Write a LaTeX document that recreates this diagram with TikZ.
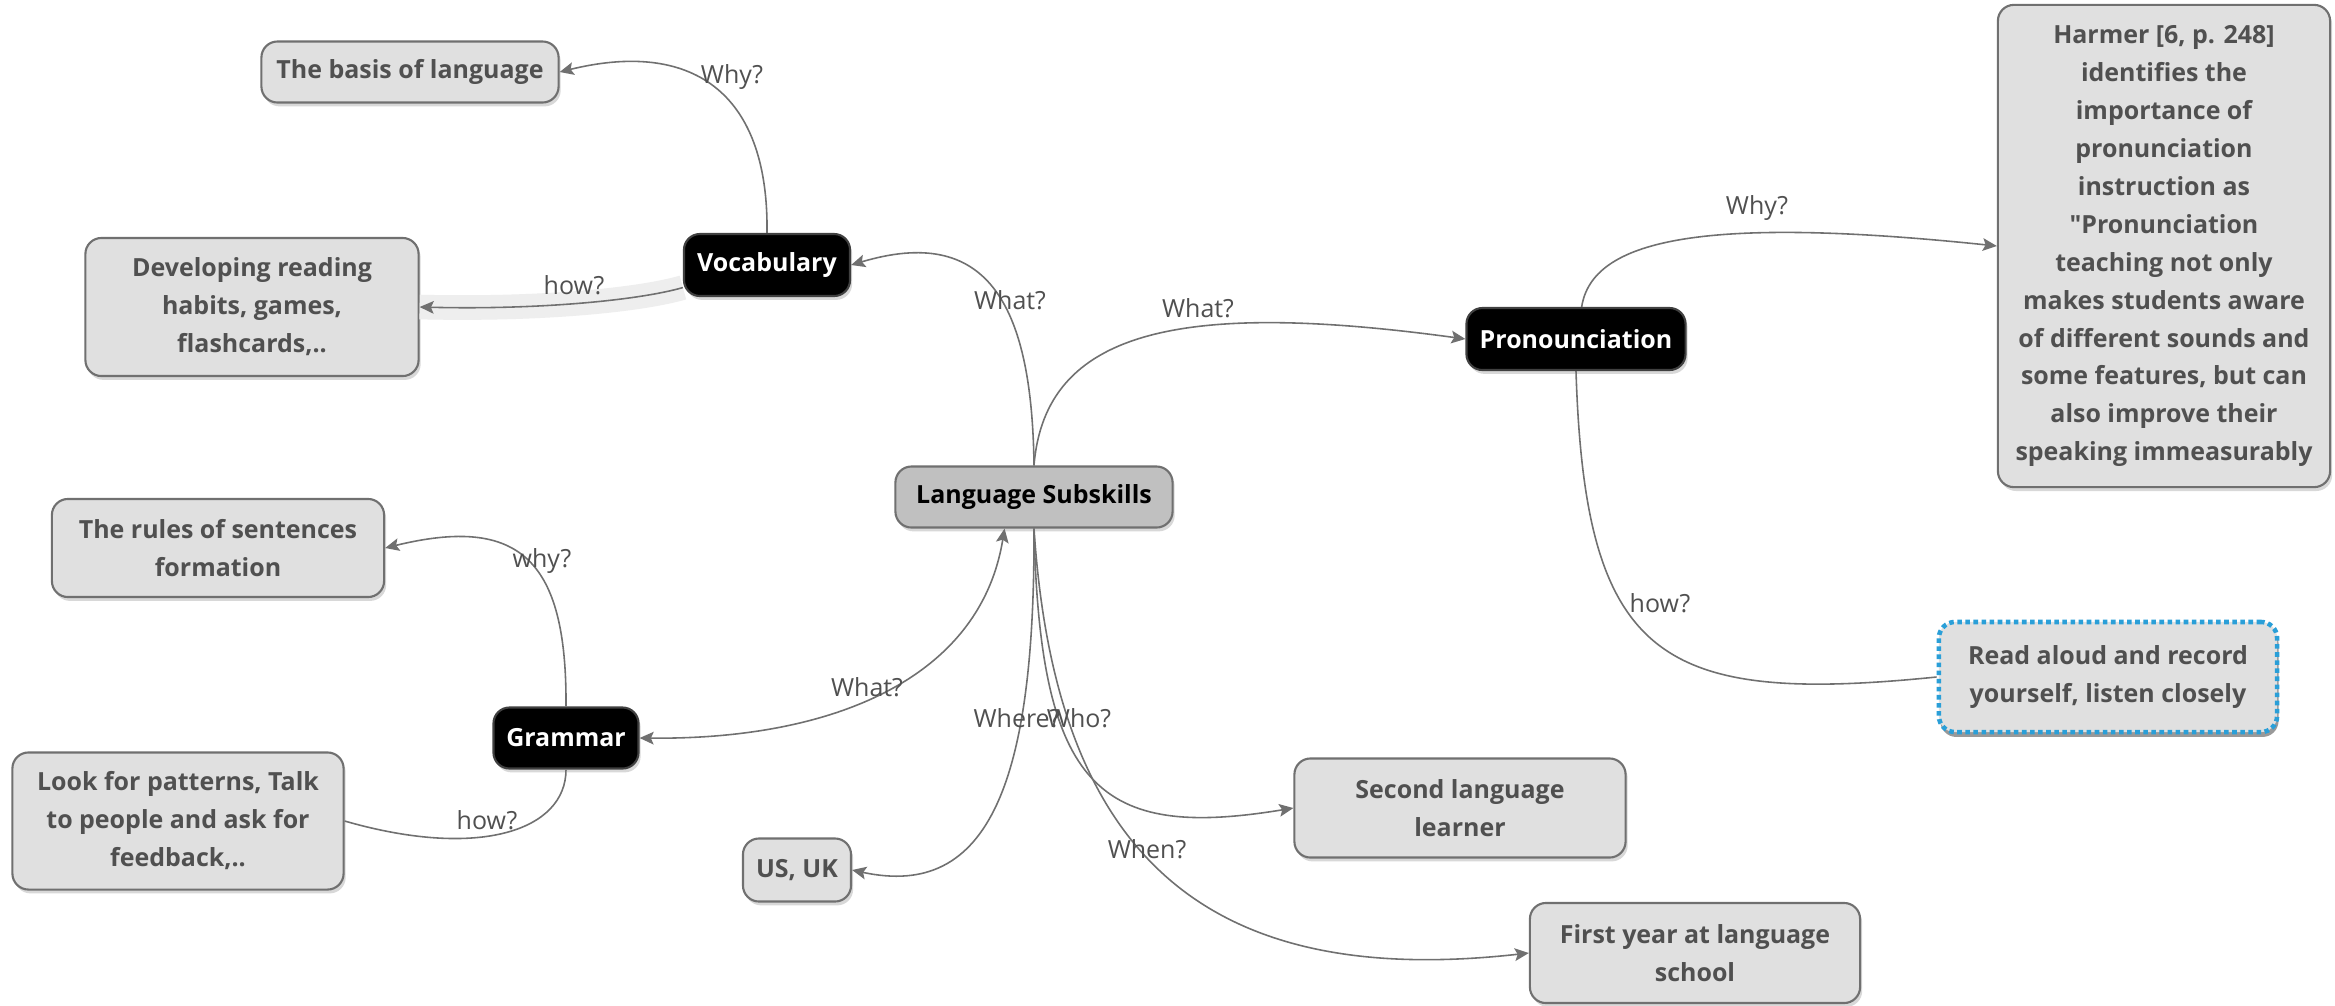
\documentclass[tikz,border=0pt]{standalone}
\usepackage{fontspec}
\setmainfont{Open Sans}
\newfontfamily\quotefont{Open Sans}
\usetikzlibrary{arrows.meta, shadows}
\definecolor{boxgray}{HTML}{E0E0E0}
\definecolor{rootgray}{HTML}{C0C0C0}
\definecolor{linegray}{HTML}{707070}
\definecolor{textgray}{HTML}{505050}
\definecolor{dotblue}{HTML}{2A9FD8}
\definecolor{bandgray}{HTML}{EEEEEE}

\begin{document}
\begin{tikzpicture}[x=0.01cm, y=-0.01cm,
    every node/.style={font=\fontsize{7.1}{10.8}\selectfont, align=center, inner sep=0pt},
    box/.style={draw=linegray, line width=0.6pt, fill=boxgray, rounded corners=0.16cm, text=textgray, font=\bfseries\fontsize{7.1}{10.8}\selectfont},
    leaf/.style={box, drop shadow={shadow xshift=0.6pt, shadow yshift=-1.1pt, opacity=0.3}},
    topic/.style={leaf, fill=black, draw=black!75, text=white},
    root/.style={leaf, fill=rootgray, text=black},
    ask/.style={text=textgray},
    >={Stealth[length=4pt, width=3.6pt, inset=0.8pt]},
    link/.style={draw=linegray, line width=0.45pt, ->},
    plain/.style={draw=linegray, line width=0.45pt}
  ]
  \fill[white] (0,0) rectangle (2335,1005);
  \useasboundingbox (0,0) rectangle (2335,1005);

  \node[root, minimum width=2.77cm, minimum height=0.61cm] (skills) at (1034,497) {Language Subskills};
  \node[topic, minimum width=1.66cm, minimum height=0.62cm] (vocab) at (767,265) {Vocabulary};
  \node[topic, minimum width=2.19cm, minimum height=0.62cm] (pron) at (1576,339) {Pronounciation};
  \node[topic, minimum width=1.45cm, minimum height=0.61cm] (gram) at (566,738) {Grammar};

  \node[leaf, minimum width=2.97cm, minimum height=0.61cm] (basis) at (410,72) {The basis of language};
  \node[leaf, minimum width=3.33cm, minimum height=1.38cm] (habits) at (252,307) {Developing reading\\habits, games,\\flashcards,..};
  \node[leaf, minimum width=3.32cm, minimum height=4.82cm] (harmer) at (2164,246) {Harmer [6, p. 248]\\identifies the\\importance of\\pronunciation\\instruction as\\{\quotefont "}Pronunciation\\teaching not only\\makes students aware\\of different sounds and\\some features, but can\\also improve their\\speaking immeasurably};
  \node[box, minimum width=3.38cm, minimum height=1.10cm, draw=dotblue, line width=1.3pt, dash pattern=on 1.3pt off 1pt,
        drop shadow={shadow xshift=0.4pt, shadow yshift=-1.4pt, opacity=0.8}] (record) at (2108,677) {Read aloud and record\\yourself, listen closely};
  \node[leaf, minimum width=3.31cm, minimum height=0.99cm] (learner) at (1460,808) {Second language\\learner};
  \node[leaf, minimum width=3.30cm, minimum height=1.00cm] (school) at (1695,953) {First year at language\\school};
  \node[leaf, minimum width=3.32cm, minimum height=0.98cm] (rules) at (218,548) {The rules of sentences\\formation};
  \node[leaf, minimum width=3.31cm, minimum height=1.37cm] (patterns) at (178,821) {Look for patterns, Talk\\to people and ask for\\feedback,..};
  \node[leaf, minimum width=1.08cm, minimum height=0.63cm] (place) at (797,870) {US, UK};

  % highlight band under the vocabulary link
  \draw[bandgray, line width=7pt] (vocab.195) .. controls (640,300) and (540,310) .. (habits.east);

  \draw[link] (vocab.north) .. controls (769,90) and (690,40) .. (basis.east);
  \draw[link] (vocab.195) .. controls (640,300) and (540,310) .. (habits.east);
  \draw[link] (skills.north) .. controls (1032,300) and (985,225) .. (vocab.east);
  \draw[link] (skills.north) .. controls (1045,330) and (1180,300) .. (pron.west);
  \draw[link] (pron.80) .. controls (1592,240) and (1700,215) .. (harmer.west);
  \draw[plain] (pron.south) .. controls (1585,660) and (1660,705) .. (record.west);
  \draw[link, <->] (gram.east) .. controls (830,740) and (980,680) .. (skills.227);
  \draw[link] (gram.north) .. controls (567,560) and (520,515) .. (rules.east);
  \draw[plain] (gram.south) .. controls (566,830) and (480,860) .. (patterns.east);
  \draw[link] (skills.south) .. controls (1035,780) and (990,900) .. (place.east);
  \draw[link] (skills.south) .. controls (1040,790) and (1100,840) .. (learner.west);
  \draw[link] (skills.south) .. controls (1055,850) and (1200,990) .. (school.west);

  \node[ask] (whyvoc) at (732,77) {Why?};
  \node[ask] (howvoc) at (574,285) {how?};
  \node[ask] (whatvoc) at (1010,300) {What?};
  \node[ask] (whatpron) at (1198,308) {What?};
  \node[ask] (whypron) at (1757,208) {Why?};
  \node[ask] (howpron) at (1660,603) {how?};
  \node[ask] (whygram) at (542,561) {why?};
  \node[ask] (whatgram) at (867,687) {What?};
  \node[ask] (howgram) at (487,820) {how?};
  \node[ask] (where) at (1017,718) {Where?};
  \node[ask] (who) at (1079,718) {Who?};
  \node[ask] (when) at (1147,849) {When?};
\end{tikzpicture}
\end{document}
